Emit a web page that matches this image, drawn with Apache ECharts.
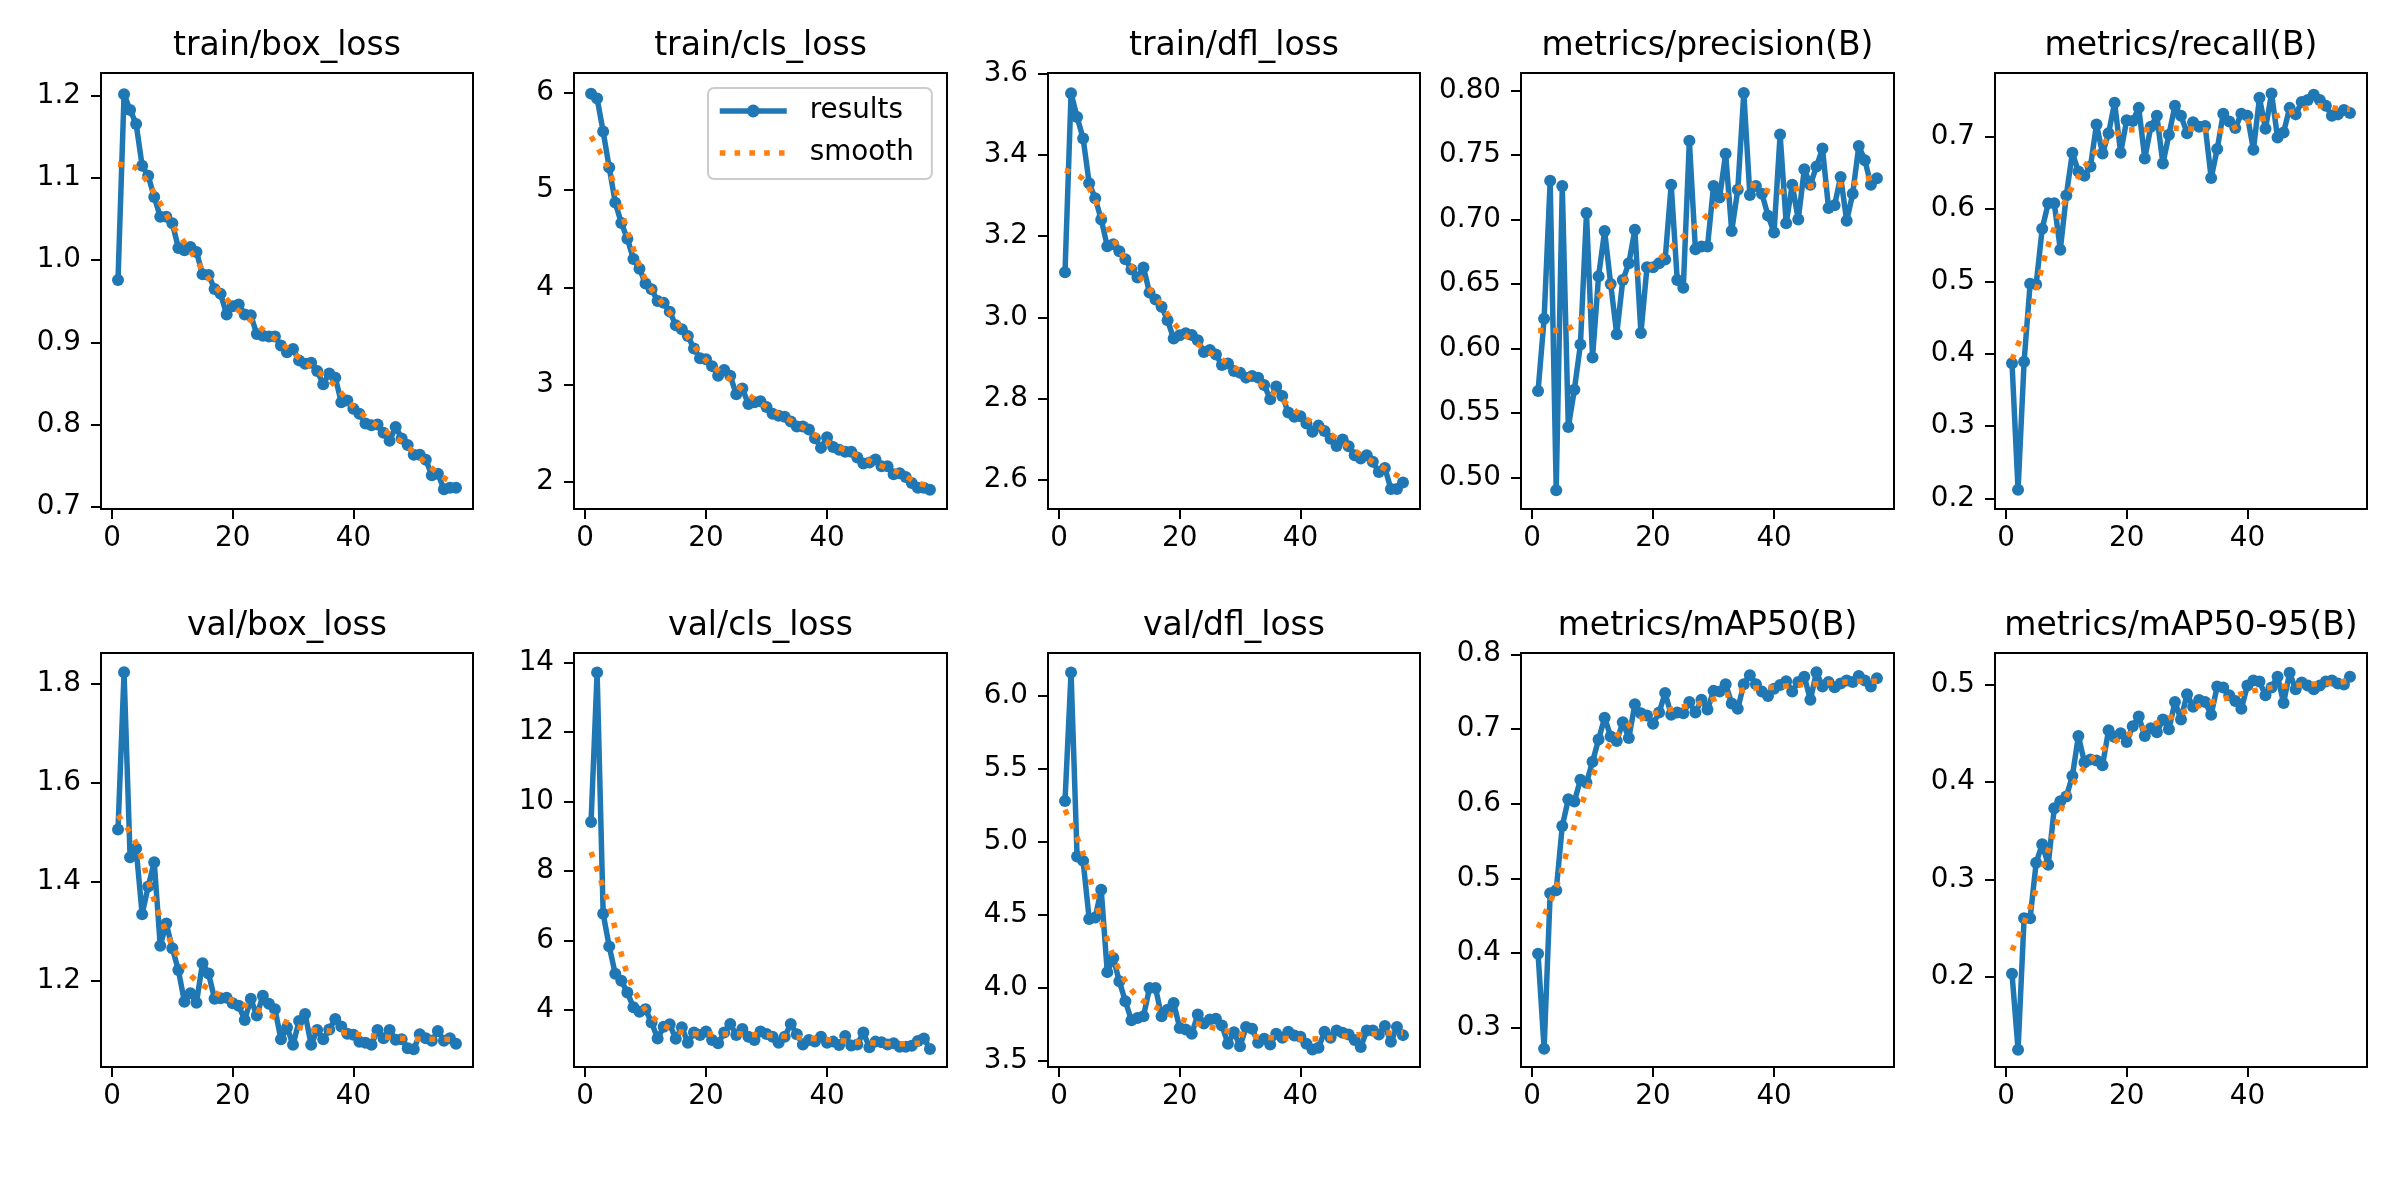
<!DOCTYPE html>
<html>
<head>
<meta charset="utf-8">
<script src="https://cdn.jsdelivr.net/npm/echarts@6/dist/echarts.min.js"></script>
<style>
html,body{margin:0;padding:0;background:#fff;}
#main{width:2400px;height:1200px;}
</style>
</head>
<body>
<div id="main"></div>
<script>
// ---------------- data ----------------
const epochs = [1,2,3,4,5,6,7,8,9,10,11,12,13,14,15,16,17,18,19,20,21,22,23,24,25,26,27,28,29,30,31,32,33,34,35,36,37,38,39,40,41,42,43,44,45,46,47,48,49,50,51,52,53,54,55,56,57];
const smoothEpochs = [1,4,7,10,13,16,20,24,28,32,36,40,44,48,52,55,57];

const trainBoxLoss = [0.976,1.202,1.183,1.166,1.115,1.103,1.077,1.053,1.053,1.045,1.015,1.012,1.016,1.010,0.983,0.982,0.965,0.959,0.934,0.944,0.946,0.934,0.933,0.910,0.908,0.907,0.907,0.896,0.888,0.892,0.878,0.874,0.875,0.865,0.849,0.862,0.857,0.827,0.829,0.819,0.813,0.801,0.799,0.800,0.790,0.780,0.797,0.783,0.775,0.763,0.763,0.757,0.738,0.740,0.721,0.723,0.723];
const trainBoxLossSmooth = [1.117,1.112,1.082,1.043,1.011,0.978,0.945,0.921,0.899,0.875,0.854,0.822,0.798,0.779,0.753,0.735,0.728];

const trainClsLoss = [5.99,5.94,5.60,5.23,4.87,4.66,4.50,4.29,4.19,4.04,3.98,3.86,3.84,3.75,3.61,3.57,3.50,3.37,3.27,3.26,3.19,3.09,3.15,3.09,2.90,2.96,2.80,2.82,2.83,2.77,2.70,2.68,2.67,2.62,2.57,2.57,2.54,2.45,2.35,2.46,2.36,2.33,2.31,2.31,2.25,2.19,2.20,2.23,2.16,2.16,2.08,2.09,2.05,1.99,1.94,1.94,1.92];
const trainClsLossSmooth = [5.55,5.20,4.58,4.08,3.82,3.57,3.25,3.05,2.85,2.70,2.56,2.41,2.30,2.19,2.09,1.99,1.96];

const trainDflLoss = [3.111,3.551,3.493,3.440,3.330,3.293,3.241,3.175,3.180,3.163,3.143,3.118,3.098,3.123,3.061,3.044,3.026,2.993,2.948,2.956,2.961,2.957,2.944,2.915,2.920,2.909,2.883,2.887,2.868,2.864,2.852,2.856,2.852,2.834,2.799,2.830,2.807,2.766,2.756,2.757,2.739,2.719,2.734,2.721,2.702,2.684,2.700,2.683,2.661,2.653,2.661,2.645,2.620,2.630,2.578,2.578,2.594];
const trainDflLossSmooth = [3.362,3.340,3.256,3.166,3.107,3.051,2.969,2.924,2.887,2.850,2.809,2.761,2.723,2.682,2.645,2.620,2.604];

const precisionB = [0.567,0.623,0.730,0.490,0.726,0.539,0.568,0.603,0.705,0.593,0.656,0.691,0.650,0.611,0.653,0.666,0.692,0.612,0.663,0.663,0.666,0.669,0.727,0.653,0.647,0.761,0.677,0.679,0.679,0.726,0.717,0.751,0.691,0.723,0.798,0.719,0.726,0.720,0.703,0.690,0.766,0.697,0.727,0.700,0.739,0.727,0.741,0.755,0.709,0.711,0.733,0.699,0.720,0.757,0.746,0.727,0.732];
const precisionBSmooth = [0.614,0.614,0.618,0.635,0.649,0.655,0.665,0.683,0.699,0.718,0.727,0.721,0.724,0.727,0.727,0.731,0.734];

const recallB = [0.387,0.212,0.389,0.497,0.496,0.573,0.608,0.608,0.544,0.619,0.678,0.652,0.646,0.659,0.717,0.677,0.705,0.747,0.678,0.723,0.722,0.740,0.670,0.714,0.729,0.663,0.703,0.743,0.729,0.705,0.720,0.714,0.715,0.643,0.683,0.732,0.721,0.712,0.732,0.729,0.682,0.754,0.711,0.760,0.699,0.706,0.740,0.731,0.748,0.751,0.758,0.751,0.743,0.729,0.731,0.737,0.733];
const recallBSmooth = [0.392,0.458,0.550,0.615,0.658,0.690,0.709,0.710,0.712,0.710,0.708,0.721,0.727,0.736,0.743,0.739,0.738];

const valBoxLoss = [1.506,1.824,1.450,1.468,1.335,1.391,1.440,1.271,1.316,1.266,1.222,1.158,1.175,1.156,1.236,1.215,1.164,1.165,1.166,1.155,1.150,1.121,1.164,1.130,1.170,1.154,1.143,1.082,1.106,1.071,1.119,1.133,1.071,1.101,1.082,1.102,1.123,1.108,1.093,1.091,1.077,1.075,1.071,1.101,1.084,1.101,1.081,1.082,1.064,1.062,1.092,1.084,1.079,1.099,1.079,1.084,1.073];
const valBoxLossSmooth = [1.535,1.478,1.363,1.272,1.212,1.184,1.160,1.142,1.121,1.103,1.099,1.093,1.088,1.084,1.082,1.082,1.081];

const valClsLoss = [9.41,13.71,6.77,5.83,5.04,4.84,4.50,4.08,3.95,4.02,3.64,3.18,3.52,3.59,3.17,3.50,3.06,3.35,3.28,3.38,3.14,3.04,3.35,3.60,3.28,3.45,3.23,3.14,3.38,3.31,3.23,3.06,3.23,3.60,3.30,3.01,3.14,3.09,3.23,3.06,3.09,2.99,3.25,2.98,3.01,3.35,2.93,3.09,3.07,3.01,3.04,2.94,2.94,2.97,3.11,3.18,2.88];
const valClsLossSmooth = [8.54,6.98,5.03,4.00,3.56,3.36,3.31,3.32,3.29,3.26,3.20,3.15,3.09,3.05,3.02,3.04,3.05];

const valDflLoss = [5.280,6.158,4.900,4.870,4.472,4.483,4.672,4.109,4.205,4.046,3.910,3.780,3.795,3.807,4.000,4.000,3.807,3.852,3.898,3.727,3.716,3.687,3.819,3.758,3.785,3.790,3.744,3.619,3.698,3.602,3.733,3.721,3.626,3.653,3.614,3.687,3.660,3.701,3.676,3.667,3.619,3.580,3.592,3.701,3.660,3.710,3.694,3.683,3.644,3.596,3.710,3.710,3.683,3.740,3.633,3.733,3.678];
const valDflLossSmooth = [5.22,4.92,4.46,4.12,3.94,3.87,3.79,3.745,3.705,3.67,3.66,3.652,3.655,3.675,3.688,3.693,3.695];

const mAP50B = [0.399,0.272,0.480,0.484,0.570,0.606,0.603,0.632,0.628,0.656,0.686,0.715,0.690,0.684,0.709,0.688,0.733,0.721,0.718,0.707,0.722,0.748,0.719,0.722,0.721,0.736,0.722,0.739,0.726,0.751,0.750,0.760,0.734,0.727,0.760,0.772,0.760,0.750,0.744,0.754,0.759,0.764,0.750,0.763,0.770,0.739,0.776,0.757,0.763,0.756,0.761,0.765,0.763,0.771,0.765,0.757,0.768];
const mAP50BSmooth = [0.434,0.488,0.570,0.637,0.681,0.705,0.720,0.728,0.735,0.745,0.754,0.756,0.759,0.761,0.763,0.764,0.764];

const mAP5095B = [0.203,0.125,0.260,0.260,0.317,0.336,0.315,0.373,0.380,0.385,0.406,0.447,0.420,0.423,0.422,0.417,0.453,0.446,0.450,0.441,0.457,0.467,0.447,0.455,0.451,0.464,0.454,0.482,0.464,0.490,0.477,0.484,0.482,0.469,0.498,0.497,0.489,0.483,0.475,0.499,0.504,0.503,0.489,0.497,0.508,0.481,0.512,0.495,0.502,0.499,0.495,0.499,0.503,0.504,0.501,0.500,0.508];
const mAP5095BSmooth = [0.227,0.271,0.330,0.385,0.415,0.433,0.448,0.458,0.468,0.478,0.485,0.492,0.497,0.499,0.501,0.502,0.504];

// tick labels
const xTickLabels = ['0','20','40'];
const yTicksTrainBox = ['0.7','0.8','0.9','1.0','1.1','1.2'];
const yTicksTrainCls = ['2','3','4','5','6'];
const yTicksTrainDfl = ['2.6','2.8','3.0','3.2','3.4','3.6'];
const yTicksPrecision = ['0.50','0.55','0.60','0.65','0.70','0.75','0.80'];
const yTicksRecall = ['0.2','0.3','0.4','0.5','0.6','0.7'];
const yTicksValBox = ['1.2','1.4','1.6','1.8'];
const yTicksValCls = ['4','6','8','10','12','14'];
const yTicksValDfl = ['3.5','4.0','4.5','5.0','5.5','6.0'];
const yTicksMAP50 = ['0.3','0.4','0.5','0.6','0.7','0.8'];
const yTicksMAP5095 = ['0.2','0.3','0.4','0.5'];

const titles = ['train/box_loss','train/cls_loss','train/dfl_loss','metrics/precision(B)','metrics/recall(B)',
                'val/box_loss','val/cls_loss','val/dfl_loss','metrics/mAP50(B)','metrics/mAP50-95(B)'];

// ---------------- layout ----------------
const panels = [
  {values: trainBoxLoss, smooth: trainBoxLossSmooth, ticks: yTicksTrainBox, min: 0.697, max: 1.228},
  {values: trainClsLoss, smooth: trainClsLossSmooth, ticks: yTicksTrainCls, min: 1.722, max: 6.202},
  {values: trainDflLoss, smooth: trainDflLossSmooth, ticks: yTicksTrainDfl, min: 2.529, max: 3.601},
  {values: precisionB, smooth: precisionBSmooth, ticks: yTicksPrecision, min: 0.4755, max: 0.8136},
  {values: recallB, smooth: recallBSmooth, ticks: yTicksRecall, min: 0.1855, max: 0.7882},
  {values: valBoxLoss, smooth: valBoxLossSmooth, ticks: yTicksValBox, min: 1.026, max: 1.863},
  {values: valClsLoss, smooth: valClsLossSmooth, ticks: yTicksValCls, min: 2.36, max: 14.27},
  {values: valDflLoss, smooth: valDflLossSmooth, ticks: yTicksValDfl, min: 3.46, max: 6.292},
  {values: mAP50B, smooth: mAP50BSmooth, ticks: yTicksMAP50, min: 0.2475, max: 0.8017},
  {values: mAP5095B, smooth: mAP5095BSmooth, ticks: yTicksMAP5095, min: 0.1073, max: 0.5323}
];
const lefts = [101, 574, 1048, 1521, 1995];
const widths = [372, 373, 372, 373, 372];
const tops = [73, 653];
const heights = [436, 414];
const titleTops = [30, 610];
const FONT = 'DejaVu Sans';

function labelFor(list) {
  return function (v) {
    for (const s of list) { if (Math.abs(Number(s) - v) < 1e-9) return s; }
    return '';
  };
}

const grids = [], xAxes = [], yAxes = [], series = [], titleOpts = [];
const xTickVals = xTickLabels.map(Number);
panels.forEach((p, i) => {
  const col = i % 5, row = Math.floor(i / 5);
  const left = lefts[col], top = tops[row], w = widths[col], h = heights[row];
  grids.push({left: left, top: top, width: w, height: h, show: true, borderColor: '#000', borderWidth: 2,
              backgroundColor: 'rgba(0,0,0,0)', containLabel: false, outerBoundsMode: 'none'});
  const yVals = p.ticks.map(Number);
  xAxes.push({
    type: 'value', gridIndex: i, min: -1.82, max: 59.82,
    splitLine: {show: false},
    axisLine: {show: true, onZero: false, lineStyle: {color: '#000', width: 2}},
    axisTick: {show: true, length: 10, lineStyle: {color: '#000', width: 2}, customValues: xTickVals},
    axisLabel: {customValues: xTickVals, formatter: labelFor(xTickLabels), fontSize: 27.8, color: '#000', fontFamily: FONT, margin: 16}
  });
  yAxes.push({
    type: 'value', gridIndex: i, min: p.min, max: p.max, scale: true,
    splitLine: {show: false},
    axisLine: {show: true, onZero: false, lineStyle: {color: '#000', width: 2}},
    axisTick: {show: true, length: 10, lineStyle: {color: '#000', width: 2}, customValues: yVals},
    axisLabel: {customValues: yVals, formatter: labelFor(p.ticks), fontSize: 27.8, color: '#000', fontFamily: FONT, margin: 20}
  });
  series.push({
    name: 'results', type: 'line', xAxisIndex: i, yAxisIndex: i,
    data: epochs.map((e, j) => [e, p.values[j]]),
    symbol: 'circle', symbolSize: 12, showSymbol: true,
    lineStyle: {color: '#1f77b4', width: 5.5},
    itemStyle: {color: '#1f77b4'},
    z: 2, animation: false, silent: true
  });
  series.push({
    name: 'smooth', type: 'line', xAxisIndex: i, yAxisIndex: i,
    data: smoothEpochs.map((e, j) => [e, p.smooth[j]]),
    symbol: 'none', showSymbol: false, smooth: 0.3,
    lineStyle: {color: '#ff7f0e', width: 5.5, type: [5.6, 9.2], cap: 'butt'},
    itemStyle: {color: '#ff7f0e'},
    z: 3, animation: false, silent: true
  });
  titleOpts.push({
    text: titles[i], left: left + w / 2, top: titleTops[row], textAlign: 'center', padding: 0,
    textStyle: {fontSize: 33, fontWeight: 'normal', color: '#000', fontFamily: FONT}
  });
});

const chart = echarts.init(document.getElementById('main'), null, {renderer: 'canvas'});
chart.setOption({
  backgroundColor: '#fff',
  animation: false,
  title: titleOpts,
  grid: grids,
  xAxis: xAxes,
  yAxis: yAxes,
  series: series,
  legend: {
    data: ['results', {name: 'smooth', itemStyle: {color: 'rgba(0,0,0,0)', opacity: 0}}],
    orient: 'vertical', left: 708, top: 88,
    padding: [9, 18, 12, 9], itemWidth: 67, itemHeight: 16, itemGap: 14,
    borderColor: '#cccccc', borderWidth: 2, borderRadius: 6, backgroundColor: 'rgba(255,255,255,0.8)',
    selectedMode: false,
    lineStyle: {width: 5.5},
    textStyle: {fontSize: 27.8, fontFamily: FONT, color: '#000', lineHeight: 28, padding: [0, 0, 0, 18]}
  }
});
</script>
</body>
</html>
